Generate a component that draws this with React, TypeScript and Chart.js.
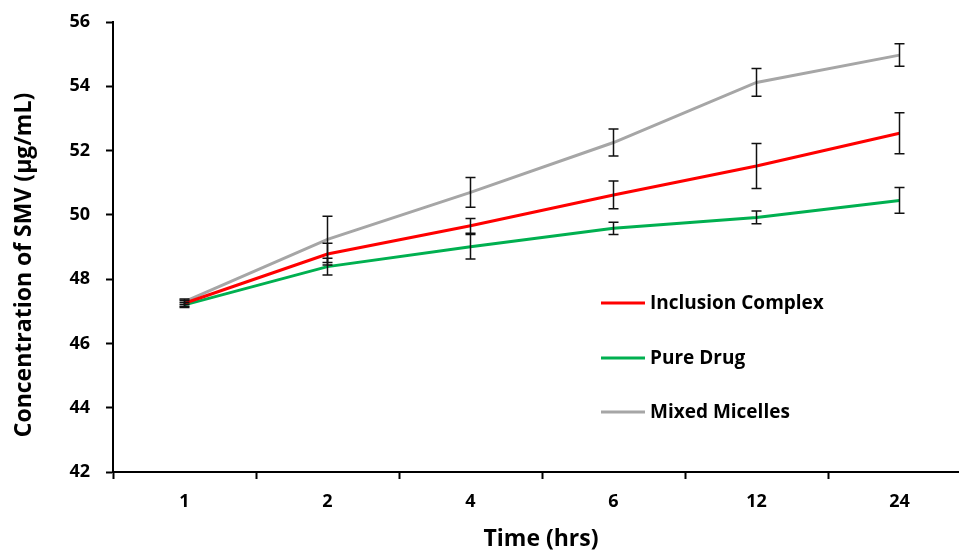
import React, { useEffect, useRef } from "react";
import { Chart, registerables } from "chart.js";

Chart.register(...registerables);

const timeLabels = ["1", "2", "4", "6", "12", "24"];

const inclusionComplex = [47.25, 48.78, 49.66, 50.62, 51.52, 52.54];
const inclusionComplexErr = [0.09, 0.34, 0.23, 0.43, 0.7, 0.64];

const pureDrug = [47.2, 48.39, 49.01, 49.58, 49.92, 50.45];
const pureDrugErr = [0.08, 0.26, 0.38, 0.19, 0.2, 0.4];

const mixedMicelles = [47.3, 49.24, 50.7, 52.25, 54.12, 54.97];
const mixedMicellesErr = [0.08, 0.72, 0.46, 0.42, 0.43, 0.35];

const yMin = 42;
const yMax = 56;
const yStep = 2;

const seriesNames = ["Inclusion Complex", "Pure Drug", "Mixed Micelles"];
const seriesColors = ["#FF0000", "#00B050", "#A6A6A6"];

const xTitle = "Time (hrs)";
const yTitle = "Concentration of SMV (µg/mL)";

const FONT = "'Open Sans', 'Noto Sans', sans-serif";

const errorBarPlugin = {
  id: "errorBars",
  afterDatasetsDraw(chart: any) {
    const ctx = chart.ctx;
    const yScale = chart.scales.y;
    const xScale = chart.scales.x;
    ctx.save();
    ctx.strokeStyle = "#111";
    ctx.lineWidth = 1.5;
    chart.data.datasets.forEach((ds: any) => {
      const errs: number[] = ds.errors || [];
      ds.data.forEach((v: number, i: number) => {
        const e = errs[i] || 0;
        const x = xScale.getPixelForValue(i);
        const yTop = yScale.getPixelForValue(v + e);
        const yBot = yScale.getPixelForValue(v - e);
        ctx.beginPath();
        ctx.moveTo(x, yTop);
        ctx.lineTo(x, yBot);
        ctx.moveTo(x - 5, yTop);
        ctx.lineTo(x + 5, yTop);
        ctx.moveTo(x - 5, yBot);
        ctx.lineTo(x + 5, yBot);
        ctx.stroke();
      });
    });
    ctx.restore();
  },
};

const legendAndTitlesPlugin = {
  id: "customLegend",
  afterDraw(chart: any) {
    const ctx = chart.ctx;
    ctx.save();
    const x0 = 601;
    const x1 = 645;
    const ys = [303, 358, 412];
    ctx.font = `bold 19px ${FONT}`;
    ctx.textBaseline = "middle";
    ctx.textAlign = "left";
    chart.data.datasets.forEach((ds: any, i: number) => {
      ctx.strokeStyle = ds.borderColor;
      ctx.lineWidth = 3;
      ctx.beginPath();
      ctx.moveTo(x0, ys[i]);
      ctx.lineTo(x1, ys[i]);
      ctx.stroke();
      ctx.fillStyle = "#000";
      ctx.fillText(ds.label, 650, ys[i] + 1);
    });

    // axis titles
    ctx.fillStyle = "#000";
    ctx.font = `bold 23px ${FONT}`;
    ctx.textAlign = "center";
    ctx.textBaseline = "middle";
    ctx.fillText(xTitle, 541, 539);

    ctx.translate(24, 265);
    ctx.rotate(-Math.PI / 2);
    ctx.fillText(yTitle, 0, 0);
    ctx.restore();
  },
};

export default function App() {
  const canvasRef = useRef<HTMLCanvasElement | null>(null);

  useEffect(() => {
    if (!canvasRef.current) return;
    const allData = [inclusionComplex, pureDrug, mixedMicelles];
    const allErr = [inclusionComplexErr, pureDrugErr, mixedMicellesErr];
    const chart = new Chart(canvasRef.current, {
      type: "line",
      data: {
        labels: timeLabels,
        datasets: seriesNames.map((name, i) => ({
          label: name,
          data: allData[i],
          errors: allErr[i],
          borderColor: seriesColors[i],
          backgroundColor: seriesColors[i],
          borderWidth: 3,
          pointRadius: 0,
          tension: 0,
          fill: false,
        })) as any,
      },
      options: {
        animation: false,
        responsive: false,
        maintainAspectRatio: false,
        layout: { padding: { top: 22, right: 9, bottom: 0, left: 0 } },
        plugins: {
          legend: { display: false },
          tooltip: { enabled: false },
        },
        scales: {
          x: {
            type: "category",
            offset: true,
            grid: {
              display: true,
              offset: true,
              drawOnChartArea: false,
              drawTicks: true,
              tickLength: 7,
              tickColor: "#000",
              tickWidth: 2,
            },
            border: { display: true, color: "#000", width: 2 },
            ticks: {
              color: "#000",
              font: { family: FONT, size: 18, weight: "bold" },
              padding: 12,
              maxRotation: 0,
            },
            title: { display: false, text: xTitle },
            afterFit(scale: any) {
              scale.height = 78;
              scale.paddingLeft = 0;
              scale.paddingRight = 0;
            },
          },
          y: {
            min: yMin,
            max: yMax,
            grid: {
              display: true,
              drawOnChartArea: false,
              drawTicks: true,
              tickLength: 7,
              tickColor: "#000",
              tickWidth: 2,
            },
            border: { display: true, color: "#000", width: 2 },
            ticks: {
              stepSize: yStep,
              color: "#000",
              font: { family: FONT, size: 18, weight: "bold" },
              padding: 16,
            },
            title: { display: false, text: yTitle },
            afterFit(scale: any) {
              scale.width = 113;
              scale.paddingTop = 0;
              scale.paddingBottom = 0;
            },
          },
        },
      } as any,
      plugins: [errorBarPlugin, legendAndTitlesPlugin],
    });
    return () => chart.destroy();
  }, []);

  return (
    <div
      style={{
        position: "fixed",
        left: 0,
        top: 0,
        width: 959,
        height: 550,
        overflow: "hidden",
        background: "#fff",
      }}
    >
      <canvas ref={canvasRef} width={980} height={550} style={{ width: 980, height: 550 }} />
    </div>
  );
}
